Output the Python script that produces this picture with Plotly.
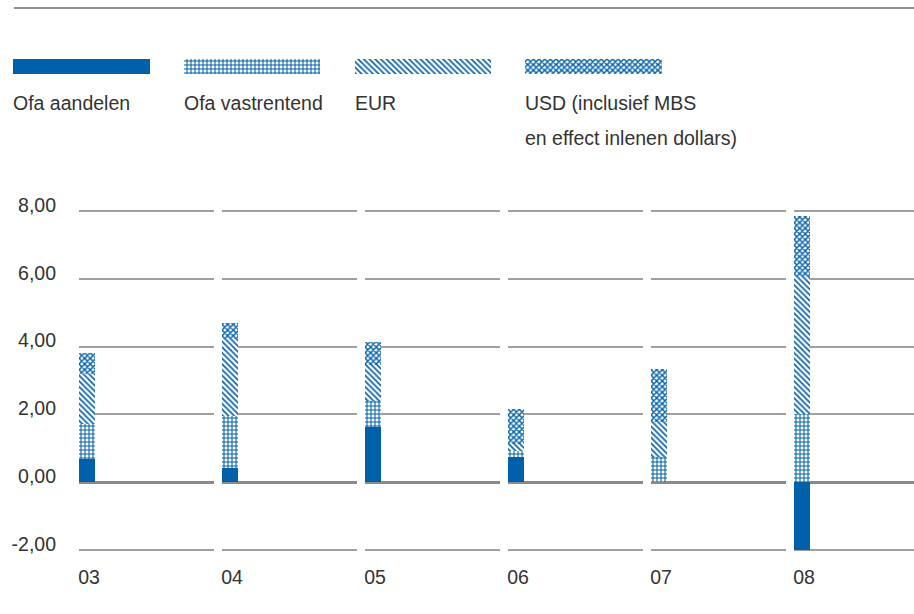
import plotly.graph_objects as go

# ---- data -------------------------------------------------------------
years = ["03", "04", "05", "06", "07", "08"]
ofa_aandelen = [0.68, 0.42, 1.63, 0.75, 0.00, -2.00]
ofa_vastrentend = [1.03, 1.52, 0.76, 0.16, 0.75, 2.00]
eur = [1.49, 2.32, 1.08, 0.23, 1.04, 4.09]
usd = [0.61, 0.45, 0.66, 1.03, 1.55, 1.76]

series_names = ["Ofa aandelen", "Ofa vastrentend", "EUR", "USD (inclusief MBS"]
series_note = "en effect inlenen dollars)"
y_ticks = [-2, 0, 2, 4, 6, 8]
y_tick_text = ["-2,00", "0,00", "2,00", "4,00", "6,00", "8,00"]

# ---- styling ----------------------------------------------------------
W, H = 914, 614
BLUE = "#0060a9"
TEXT = "#333333"
GRID = "#a0a0a0"
FONT = "Liberation Sans"
FS = 19.5

styles = [
    dict(color=BLUE),
    dict(color="white", pattern=dict(shape="+", fgcolor=BLUE, bgcolor="white", size=4, solidity=0.45)),
    dict(color="white", pattern=dict(shape="\\", fgcolor=BLUE, bgcolor="white", size=4, solidity=0.4)),
    dict(color="white", pattern=dict(shape="x", fgcolor=BLUE, bgcolor="white", size=4, solidity=0.6)),
]
values = [ofa_aandelen, ofa_vastrentend, eur, usd]

# panel geometry (pixels): one panel per year, separated by small gaps
first_left, period, panel_w, bar_px = 79, 143, 135, 16
y_top_px, y_bot_px = 200, 560
y_range = [-2.295, 8.324]

fig = go.Figure()
layout_axes = {}

for i, yr in enumerate(years):
    n = "" if i == 0 else str(i + 1)
    left = first_left + i * period
    right = min(left + panel_w, W)
    xa, ya = "x" + n, "y" + n
    for s, vals in enumerate(values):
        fig.add_trace(go.Bar(
            x=[yr], y=[vals[i]], width=1, marker=styles[s],
            xaxis=xa, yaxis=ya, showlegend=False, name=series_names[s],
        ))
    layout_axes["xaxis" + n] = dict(
        domain=[left / W, right / W], anchor=ya, type="category",
        range=[-0.5, -0.5 + (right - left) / bar_px],
        showgrid=False, zeroline=False, showline=False, ticks="",
        tickfont=dict(family=FONT, size=FS, color=TEXT),
        ticklabelstandoff=3, ticklabelshift=2, automargin=False,
    )
    layout_axes["yaxis" + n] = dict(
        domain=[1 - y_bot_px / H, 1 - y_top_px / H], anchor=xa,
        range=y_range, tickvals=y_ticks, ticktext=y_tick_text,
        showticklabels=(i == 0), showgrid=True, gridcolor=GRID, gridwidth=1.5,
        zeroline=True, zerolinecolor="#8a8a8a", zerolinewidth=3,
        showline=False, ticks="", automargin=False,
        tickfont=dict(family=FONT, size=FS, color=TEXT),
        ticklabelstandoff=22, ticklabelshift=-6,
    )

# ---- legend drawn as a small bar panel ---------------------------------
for s, name in enumerate(series_names):
    fig.add_trace(go.Bar(
        x=[name], y=[1], width=0.8, marker=styles[s],
        xaxis="x7", yaxis="y7", showlegend=False, hoverinfo="skip",
    ))
layout_axes["xaxis7"] = dict(
    domain=[13 / W, 662 / W], anchor="y7", type="category",
    categoryorder="array", categoryarray=series_names,
    range=[-0.4, 3.4], visible=False,
)
layout_axes["yaxis7"] = dict(
    domain=[1 - 74 / H, 1 - 59 / H], anchor="x7", range=[0, 1], visible=False,
)

annotations = []
for s, name in enumerate(series_names):
    annotations.append(dict(
        x=s - 0.4, xref="x7", y=1 - 103 / H, yref="paper",
        text=name, showarrow=False, xanchor="left", yanchor="middle",
        xshift=-2, font=dict(family=FONT, size=FS, color=TEXT),
    ))
annotations.append(dict(
    x=3 - 0.4, xref="x7", y=1 - 138 / H, yref="paper",
    text=series_note, showarrow=False, xanchor="left", yanchor="middle",
    xshift=-2, font=dict(family=FONT, size=FS, color=TEXT),
))

fig.update_layout(
    width=W, height=H, autosize=False,
    margin=dict(l=0, r=0, t=0, b=0),
    template="none", paper_bgcolor="white", plot_bgcolor="rgba(0,0,0,0)",
    barmode="relative", bargap=0,
    showlegend=False, annotations=annotations,
    shapes=[dict(type="line", xref="paper", yref="paper",
                 x0=14 / W, x1=1, y0=1 - 8 / H, y1=1 - 8 / H,
                 line=dict(color="#222222", width=1.2))],
    **layout_axes,
)

fig.write_html("out.html")
